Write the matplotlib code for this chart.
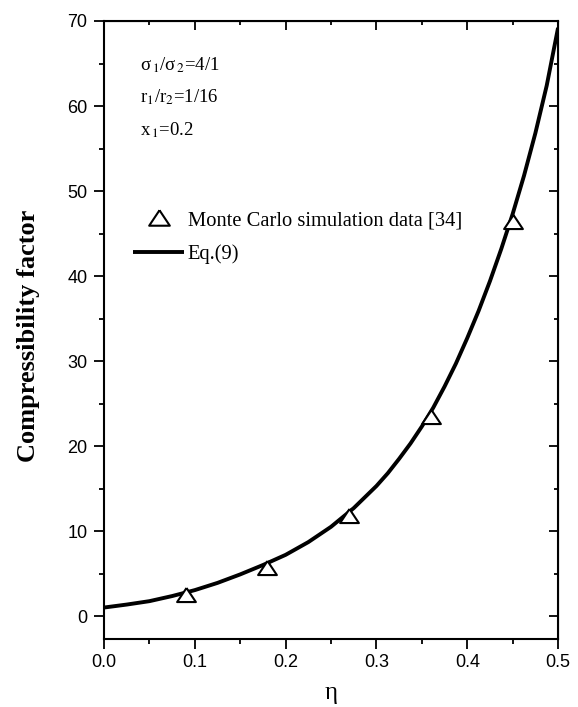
import matplotlib
matplotlib.use("Agg")
import matplotlib.pyplot as plt
from matplotlib.ticker import MultipleLocator

# Monte Carlo simulation data
eta_mc = [0.09, 0.18, 0.27, 0.36, 0.45]
z_mc = [2.5, 5.6, 11.8, 23.4, 46.4]

# Eq.(9) curve
eta_eq = [0.000, 0.025, 0.050, 0.075, 0.100, 0.125, 0.150, 0.175, 0.200,
          0.225, 0.250, 0.275, 0.300, 0.3125, 0.325, 0.3375, 0.350, 0.3625,
          0.375, 0.3875, 0.400, 0.4125, 0.425, 0.4375, 0.450, 0.4625,
          0.475, 0.4875, 0.500]
z_eq = [1.00, 1.35, 1.75, 2.35, 3.05, 3.90, 4.90, 6.00, 7.20,
        8.70, 10.5, 12.7, 15.3, 16.8, 18.5, 20.3, 22.3, 24.5,
        27.0, 29.7, 32.7, 35.9, 39.4, 43.2, 47.3, 51.8,
        56.8, 62.4, 69.2]

x_ticks = [0.0, 0.1, 0.2, 0.3, 0.4, 0.5]
y_ticks = [0, 10, 20, 30, 40, 50, 60, 70]

# slightly flattened open triangle
tri = [(0, 0.8), (-1, -0.7), (1, -0.7), (0, 0.8)]

plt.rcParams['mathtext.fontset'] = 'stix'

fig = plt.figure(figsize=(5.78, 7.07), dpi=100)
ax = fig.add_axes([0.18, 0.0962, 0.7855, 0.8741])

ax.plot(eta_eq, z_eq, color='black', lw=2.8, label='Eq.(9)', zorder=3,
        solid_joinstyle='round', solid_capstyle='butt')
ax.plot(eta_mc, z_mc, linestyle='none', marker=tri, markersize=13.5,
        markerfacecolor='white', markeredgecolor='black', markeredgewidth=1.5,
        label='Monte Carlo simulation data [34]', zorder=4)

ax.set_xlim(0.0, 0.5)
ax.set_ylim(-2.7, 70)
ax.set_xticks(x_ticks)
ax.set_yticks(y_ticks)
ax.set_xticklabels([f"{v:.1f}" for v in x_ticks])
ax.set_yticklabels([str(v) for v in y_ticks])
ax.xaxis.set_minor_locator(MultipleLocator(0.05))
ax.yaxis.set_minor_locator(MultipleLocator(5))

for s in ax.spines.values():
    s.set_linewidth(1.5)

ax.tick_params(which='both', direction='out', top=False, right=False,
               width=1.3, labelsize=13)
ax.tick_params(which='major', length=7)
ax.tick_params(axis='x', which='major', pad=3.5)
ax.tick_params(axis='y', which='major', pad=5)
ax.tick_params(which='minor', length=3.3)
for lab in ax.get_xticklabels() + ax.get_yticklabels():
    lab.set_family('Liberation Sans')

# inward ticks on the top and right spines
axt = ax.secondary_xaxis('top')
axt.set_xticks(x_ticks)
axt.xaxis.set_minor_locator(MultipleLocator(0.05))
axt.tick_params(which='both', direction='in', labeltop=False, width=1.3)
axt.tick_params(which='major', length=6.5)
axt.tick_params(which='minor', length=3)
axr = ax.secondary_yaxis('right')
axr.set_yticks(y_ticks)
axr.yaxis.set_minor_locator(MultipleLocator(5))
axr.tick_params(which='both', direction='in', labelright=False, width=1.3)
axr.tick_params(which='major', length=6.5)
axr.tick_params(which='minor', length=3)

ax.set_xlabel('η', family='Liberation Serif', fontsize=18, va='center')
ax.xaxis.set_label_coords(0.5, -0.0874)
ax.set_ylabel('Compressibility factor', family='Liberation Serif',
              fontweight='bold', fontsize=19, va='center')
ax.yaxis.set_label_coords(-0.167, 0.49)

ax.text(0.079, 0.929, 'σ$_{\\,1}$/σ$_{\\,2}$=4/1', transform=ax.transAxes,
        family='Liberation Serif', fontsize=13.5, va='center')
ax.text(0.079, 0.877, 'r$_{1}$/r$_{2}$=1/16', transform=ax.transAxes,
        family='Liberation Serif', fontsize=13.5, va='center')
ax.text(0.079, 0.823, 'x$_{\\,1}$=0.2', transform=ax.transAxes,
        family='Liberation Serif', fontsize=13.5, va='center')

handles, labels = ax.get_legend_handles_labels()
leg = ax.legend(handles[::-1], labels[::-1], loc='center left',
                bbox_to_anchor=(0.064, 0.6497), frameon=False,
                prop={'family': 'Liberation Serif', 'size': 14.8},
                handlelength=2.5, handletextpad=0.15, labelspacing=0.7,
                borderpad=0, borderaxespad=0, markerscale=1.1)

fig.savefig('out.png', dpi=100)
